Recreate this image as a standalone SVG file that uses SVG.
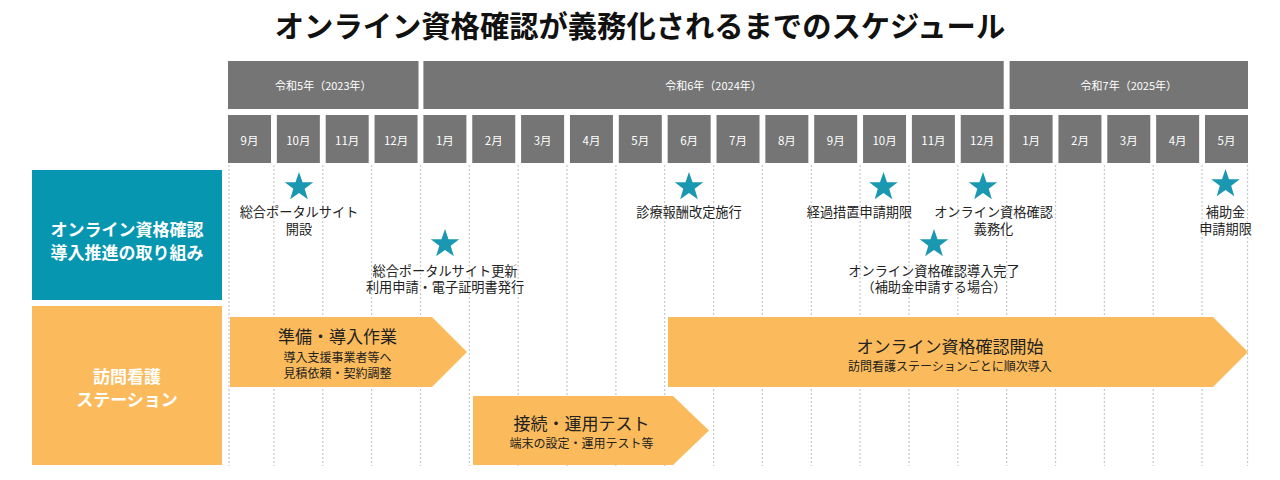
<svg xmlns="http://www.w3.org/2000/svg" xmlns:xlink="http://www.w3.org/1999/xlink" width="1280" height="480" viewBox="0 0 1280 480">
<style>
text{font-family:"Noto Sans CJK JP","Noto Sans",sans-serif;text-anchor:middle}
.title{font-size:29.3px;font-weight:bold;fill:#111}
.hd{fill:#757575}
.hdt{font-size:11px;fill:#fff}
.mt{font-size:11.5px;fill:#fff}
.grid{stroke:#c8c8c8;stroke-width:1.2;stroke-dasharray:2 2}
.lbl{font-size:13.2px;fill:#222}
.star{fill:#1b98b1}
.arrow{fill:#fbbb5c}
.am{font-size:17px;fill:#222}
.as{font-size:12px;fill:#222}
.side{font-size:17px;font-weight:bold;fill:#fff}
</style>
<defs>
<polygon id="star" points="0,-15 3.53,-4.85 14.27,-4.64 5.71,1.85 8.82,12.14 0,6 -8.82,12.14 -5.71,1.85 -14.27,-4.64 -3.53,-4.85"/>
</defs>
<rect width="1280" height="480" fill="#fff"/>
<text class="title" x="640" y="37">オンライン資格確認が義務化されるまでのスケジュール</text>

<g id="years">
<rect class="hd" x="228" y="61" width="190.5" height="48"/>
<text class="hdt" x="323.3" y="90">令和5年（2023年）</text>
<rect class="hd" x="423.4" y="61" width="580.3" height="48"/>
<text class="hdt" x="713.5" y="90">令和6年（2024年）</text>
<rect class="hd" x="1009.6" y="61" width="238.4" height="48"/>
<text class="hdt" x="1128.8" y="90">令和7年（2025年）</text>
</g>

<g id="months">
<rect class="hd" x="228" y="115" width="43" height="48"/><text class="mt" x="249.5" y="145">9月</text>
<rect class="hd" x="276.85" y="115" width="43" height="48"/><text class="mt" x="298.35" y="145">10月</text>
<rect class="hd" x="325.7" y="115" width="43" height="48"/><text class="mt" x="347.2" y="145">11月</text>
<rect class="hd" x="374.55" y="115" width="43" height="48"/><text class="mt" x="396.05" y="145">12月</text>
<rect class="hd" x="423.4" y="115" width="43" height="48"/><text class="mt" x="444.9" y="145">1月</text>
<rect class="hd" x="472.25" y="115" width="43" height="48"/><text class="mt" x="493.75" y="145">2月</text>
<rect class="hd" x="521.1" y="115" width="43" height="48"/><text class="mt" x="542.6" y="145">3月</text>
<rect class="hd" x="569.95" y="115" width="43" height="48"/><text class="mt" x="591.45" y="145">4月</text>
<rect class="hd" x="618.8" y="115" width="43" height="48"/><text class="mt" x="640.3" y="145">5月</text>
<rect class="hd" x="667.65" y="115" width="43" height="48"/><text class="mt" x="689.15" y="145">6月</text>
<rect class="hd" x="716.5" y="115" width="43" height="48"/><text class="mt" x="738" y="145">7月</text>
<rect class="hd" x="765.35" y="115" width="43" height="48"/><text class="mt" x="786.85" y="145">8月</text>
<rect class="hd" x="814.2" y="115" width="43" height="48"/><text class="mt" x="835.7" y="145">9月</text>
<rect class="hd" x="863.05" y="115" width="43" height="48"/><text class="mt" x="884.55" y="145">10月</text>
<rect class="hd" x="911.9" y="115" width="43" height="48"/><text class="mt" x="933.4" y="145">11月</text>
<rect class="hd" x="960.75" y="115" width="43" height="48"/><text class="mt" x="982.25" y="145">12月</text>
<rect class="hd" x="1009.6" y="115" width="43" height="48"/><text class="mt" x="1031.1" y="145">1月</text>
<rect class="hd" x="1058.45" y="115" width="43" height="48"/><text class="mt" x="1079.95" y="145">2月</text>
<rect class="hd" x="1107.3" y="115" width="43" height="48"/><text class="mt" x="1128.8" y="145">3月</text>
<rect class="hd" x="1156.15" y="115" width="43" height="48"/><text class="mt" x="1177.65" y="145">4月</text>
<rect class="hd" x="1205" y="115" width="43" height="48"/><text class="mt" x="1226.5" y="145">5月</text>
</g>

<g id="grid">
<line class="grid" x1="229" y1="165" x2="229" y2="466"/>
<line class="grid" x1="273.9" y1="165" x2="273.9" y2="466"/>
<line class="grid" x1="322.8" y1="165" x2="322.8" y2="466"/>
<line class="grid" x1="371.6" y1="165" x2="371.6" y2="466"/>
<line class="grid" x1="420.5" y1="165" x2="420.5" y2="466"/>
<line class="grid" x1="469.3" y1="165" x2="469.3" y2="466"/>
<line class="grid" x1="518.2" y1="165" x2="518.2" y2="466"/>
<line class="grid" x1="567" y1="165" x2="567" y2="466"/>
<line class="grid" x1="615.9" y1="165" x2="615.9" y2="466"/>
<line class="grid" x1="664.7" y1="165" x2="664.7" y2="466"/>
<line class="grid" x1="713.6" y1="165" x2="713.6" y2="466"/>
<line class="grid" x1="762.4" y1="165" x2="762.4" y2="466"/>
<line class="grid" x1="811.3" y1="165" x2="811.3" y2="466"/>
<line class="grid" x1="860.1" y1="165" x2="860.1" y2="466"/>
<line class="grid" x1="909" y1="165" x2="909" y2="466"/>
<line class="grid" x1="957.8" y1="165" x2="957.8" y2="466"/>
<line class="grid" x1="1006.7" y1="165" x2="1006.7" y2="466"/>
<line class="grid" x1="1055.5" y1="165" x2="1055.5" y2="466"/>
<line class="grid" x1="1104.4" y1="165" x2="1104.4" y2="466"/>
<line class="grid" x1="1153.2" y1="165" x2="1153.2" y2="466"/>
<line class="grid" x1="1202.1" y1="165" x2="1202.1" y2="466"/>
<line class="grid" x1="1247.5" y1="165" x2="1247.5" y2="466"/>
</g>

<g id="lane-promo">
<rect x="32" y="170" width="190" height="130" fill="#0696b0"/>
<text class="side" x="127" y="236">オンライン資格確認</text>
<text class="side" x="127" y="259">導入推進の取り組み</text>
</g>
<g id="lane-station">
<rect x="32" y="306" width="190" height="159" fill="#fbbb5c"/>
<text class="side" x="127" y="383">訪問看護</text>
<text class="side" x="127" y="406">ステーション</text>
</g>

<g id="m-portal-open">
<use xlink:href="#star" class="star" x="299" y="187"/>
<text class="lbl" x="299" y="217">総合ポータルサイト</text>
<text class="lbl" x="299" y="234">開設</text>
</g>
<g id="m-portal-update">
<use xlink:href="#star" class="star" x="445" y="244"/>
<text class="lbl" x="445" y="275.5">総合ポータルサイト更新</text>
<text class="lbl" x="445" y="292">利用申請・電子証明書発行</text>
</g>
<g id="m-revision">
<use xlink:href="#star" class="star" x="689" y="187"/>
<text class="lbl" x="689" y="217">診療報酬改定施行</text>
</g>
<g id="m-transition">
<use xlink:href="#star" class="star" x="883.5" y="187"/>
<text class="lbl" x="859.5" y="217">経過措置申請期限</text>
</g>
<g id="m-mandatory">
<use xlink:href="#star" class="star" x="983" y="187"/>
<text class="lbl" x="993.5" y="217">オンライン資格確認</text>
<text class="lbl" x="993.5" y="234">義務化</text>
</g>
<g id="m-complete">
<use xlink:href="#star" class="star" x="934" y="244"/>
<text class="lbl" x="934" y="275.5">オンライン資格確認導入完了</text>
<text class="lbl" x="934" y="292">（補助金申請する場合）</text>
</g>
<g id="m-subsidy">
<use xlink:href="#star" class="star" x="1225.5" y="184"/>
<text class="lbl" x="1225.5" y="217">補助金</text>
<text class="lbl" x="1225.5" y="234">申請期限</text>
</g>

<g id="a-prep">
<polygon class="arrow" points="230,317 432,317 467,352 432,387 230,387"/>
<text class="am" x="337.5" y="343">準備・導入作業</text>
<text class="as" x="337.5" y="362">導入支援事業者等へ</text>
<text class="as" x="337.5" y="378">見積依頼・契約調整</text>
</g>
<g id="a-test">
<polygon class="arrow" points="473,396 673,396 709,430.5 673,465 473,465"/>
<text class="am" x="581.5" y="430">接続・運用テスト</text>
<text class="as" x="581.5" y="447.5">端末の設定・運用テスト等</text>
</g>
<g id="a-start">
<polygon class="arrow" points="668,317 1213,317 1248,352 1213,387 668,387"/>
<text class="am" x="950" y="352.5">オンライン資格確認開始</text>
<text class="as" x="950" y="370.5">訪問看護ステーションごとに順次導入</text>
</g>
</svg>
